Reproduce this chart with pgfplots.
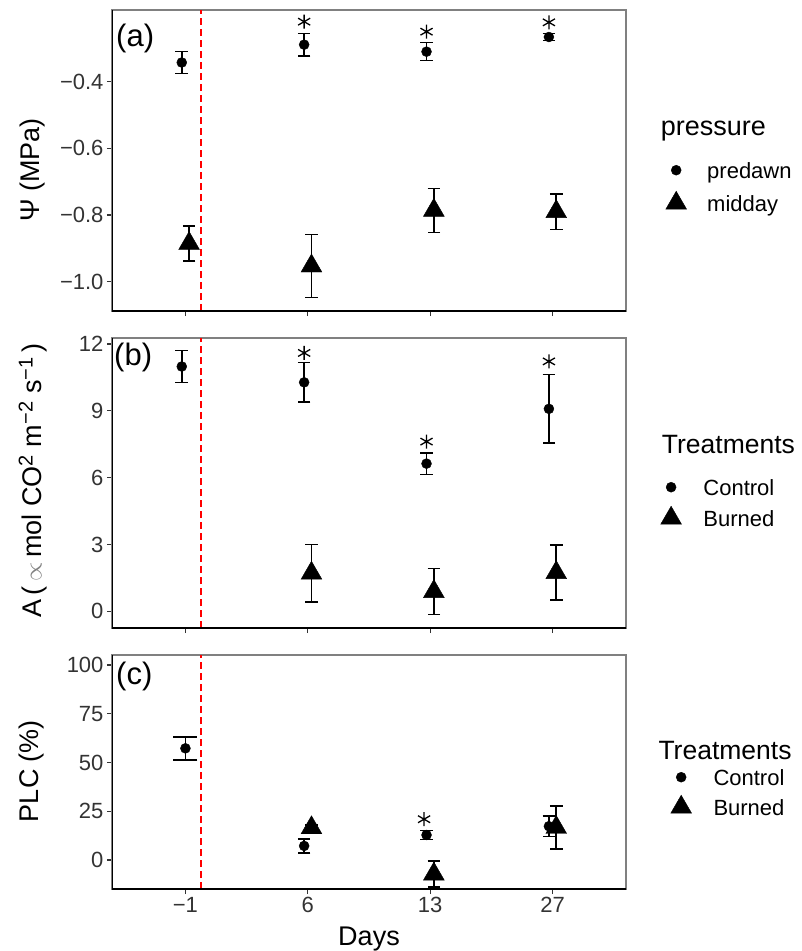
\documentclass[border=0pt]{standalone}
\usepackage{fontspec}
\setmainfont{Liberation Sans}
\usepackage{pgfplots}
\pgfplotsset{compat=1.18}
\definecolor{tickgray}{HTML}{333333}
\definecolor{framegray}{HTML}{808080}
\definecolor{dashred}{HTML}{FF0000}

\pgfplotsset{
 panel/.style={
  scale only axis, width=514pt,
  xmin=-0.6, xmax=3.6, xtick={0,1,2,3},
  xtick pos=left, ytick pos=left,
  tick align=outside, major tick length=5pt,
  every tick/.style={tickgray, line width=1.2pt},
  axis line style={framegray, line width=1.2pt},
  tick label style={font=\fontsize{22}{26}\selectfont, text=tickgray},
  /pgf/number format/assume math mode=true,
  legend cell align=left,
  legend image code/.code={\draw[overlay,##1] plot coordinates {(11pt,2.5pt)}; \pgfpathrectangle{\pgfpointorigin}{\pgfqpoint{22pt}{1pt}}\pgfusepath{discard}},
 },
 ebars/.style={
   error bars/y dir=both, error bars/y explicit,
   error bars/error mark=|,
   error bars/error bar style={line width=1.6pt, black},
   error bars/error mark options={line width=1.6pt, mark size=#1, black}},
 ctrl/.style={only marks, mark=*, mark size=5pt, black, mark options={solid, fill=black}, ebars=6.3pt},
 burn/.style={only marks, mark=triangle*, mark size=12pt, black, mark options={solid, fill=black}, ebars=6.3pt},
 star/.style={only marks, mark=asterisk, mark size=7pt, black, mark options={line width=1.3pt}, forget plot},
}

\begin{document}
\begin{tikzpicture}
\useasboundingbox (0,0) rectangle (801pt,-951pt);

% ---------- panel (a)
\begin{axis}[panel, at={(112pt,-10pt)}, anchor=north west, height=301pt,
  ymin=-1.088, ymax=-0.185, ytick={-1,-0.8,-0.6,-0.4},
  yticklabels={−1.0,−0.8,−0.6,−0.4}, xticklabels={},
  legend style={at={(axis description cs:1.0759,0.495)}, anchor=north west,
    draw=none, fill=none, inner sep=0pt, font=\fontsize{22}{26}\selectfont,
    row sep=12pt, column sep=20pt,
    nodes={inner sep=0pt, text height=16pt, text depth=5pt}}]
\draw[dashred, line width=1.8pt, dash pattern=on 7pt off 4pt] (axis cs:0.13,-1.088) -- (axis cs:0.13,-0.185);
\draw[black, line width=1.6pt] (rel axis cs:0,1) -- (rel axis cs:0,0) -- (rel axis cs:1,0);
\addplot[ctrl] table[x=x, y=y, y error=e] {
x y e
-0.03 -0.3425 0.0325
0.97 -0.289 0.034
1.97 -0.31 0.027
2.97 -0.266 0.011
};
\addlegendentry{predawn}
\addplot[burn] table[x=x, y=y, y error=e] {
x y e
0.03 -0.8855 0.0525
1.03 -0.953 0.095
2.03 -0.786 0.066
3.03 -0.79 0.053
};
\addlegendentry{midday}
\addplot[star] coordinates {(0.97,-0.22) (1.97,-0.25) (2.97,-0.222)};
\end{axis}

% ---------- panel (b)
\begin{axis}[panel, at={(112pt,-338pt)}, anchor=north west, height=290pt,
  ymin=-0.75, ymax=12.27, ytick={0,3,6,9,12}, xticklabels={},
  legend style={at={(axis description cs:1.066,0.5138)}, anchor=north west,
    draw=none, fill=none, inner sep=0pt, font=\fontsize{22}{26}\selectfont,
    row sep=10pt, column sep=21.3pt,
    nodes={inner sep=0pt, text height=16pt, text depth=5pt}}]
\draw[dashred, line width=1.8pt, dash pattern=on 7pt off 4pt] (axis cs:0.13,-0.75) -- (axis cs:0.13,12.27);
\draw[black, line width=1.6pt] (rel axis cs:0,1) -- (rel axis cs:0,0) -- (rel axis cs:1,0);
\addplot[ctrl] table[x=x, y=y, y error=e] {
x y e
-0.03 10.99 0.72
0.97 10.28 0.89
1.97 6.63 0.48
2.97 9.09 1.54
};
\addlegendentry{Control}
\addplot[burn] table[x=x, y=y, y error=e] {
x y e
1.03 1.71 1.29
2.03 0.885 1.035
3.03 1.735 1.235
};
\addlegendentry{Burned}
\addplot[star] coordinates {(0.97,11.6) (1.97,7.62) (2.97,11.22)};
\end{axis}

% ---------- panel (c)
\begin{axis}[panel, at={(112pt,-655pt)}, anchor=north west, height=234pt,
  ymin=-14.9, ymax=105.1, ytick={0,25,50,75,100},
  xticklabels={−1,6,13,27},
  legend style={at={(axis description cs:1.0856,0.5128)}, anchor=north west,
    draw=none, fill=none, inner sep=0pt, font=\fontsize{22}{26}\selectfont,
    row sep=9pt, column sep=21.3pt,
    nodes={inner sep=0pt, text height=16pt, text depth=5pt}}]
\draw[dashred, line width=1.8pt, dash pattern=on 7pt off 4pt] (axis cs:0.13,-14.9) -- (axis cs:0.13,105.1);
\draw[black, line width=1.6pt] (rel axis cs:0,1) -- (rel axis cs:0,0) -- (rel axis cs:1,0);
\addplot[only marks, mark=*, mark size=5pt, black, mark options={solid, fill=black}, ebars=12pt, forget plot]
  table[x=x, y=y, y error=e] {
x y e
0 57.25 5.95
};
\addplot[ctrl] table[x=x, y=y, y error=e] {
x y e
0.97 7.2 3.5
1.97 12.8 2.4
2.97 17.3 5.3
};
\addlegendentry{Control}
\addplot[burn] table[x=x, y=y, y error=e] {
x y e
1.03 16.5 1.5
2.03 -7.25 6.75
3.03 16.65 11.05
};
\addlegendentry{Burned}
\addplot[star] coordinates {(1.95,20.9)};
\end{axis}

% ---------- texts
\node[anchor=base west, inner sep=0pt, font=\fontsize{31}{34}\selectfont] at (116pt,-46pt) {(a)};
\node[anchor=base west, inner sep=0pt, font=\fontsize{31}{34}\selectfont] at (114pt,-365pt) {(b)};
\node[anchor=base west, inner sep=0pt, font=\fontsize{31}{34}\selectfont] at (116pt,-684pt) {(c)};

\node[anchor=base west, inner sep=0pt, font=\fontsize{27}{30}\selectfont] at (660.7pt,-135pt) {pressure};
\node[anchor=base west, inner sep=0pt, font=\fontsize{26.5}{30}\selectfont] at (661.7pt,-453.3pt) {Treatments};
\node[anchor=base west, inner sep=0pt, font=\fontsize{26.5}{30}\selectfont] at (658.3pt,-759.3pt) {Treatments};

\node[rotate=90, inner sep=0pt, font=\fontsize{27}{30}\selectfont] at (33pt,-170pt) {Ψ (MPa)};
\node[rotate=90, inner sep=0pt, font=\fontsize{27}{30}\selectfont] at (33pt,-480.5pt)
  {A\,(\,{\color{gray}$\propto$}\,mol CO\textsuperscript{\fontsize{20}{22}\selectfont 2} m\textsuperscript{\fontsize{20}{22}\selectfont −2} s\textsuperscript{\fontsize{20}{22}\selectfont −1}\,)};
\node[rotate=90, inner sep=0pt, font=\fontsize{27}{30}\selectfont] at (32pt,-771pt) {PLC (\%)};
\node[anchor=base, inner sep=0pt, font=\fontsize{27}{30}\selectfont] at (369pt,-945pt) {Days};
\end{tikzpicture}
\end{document}
